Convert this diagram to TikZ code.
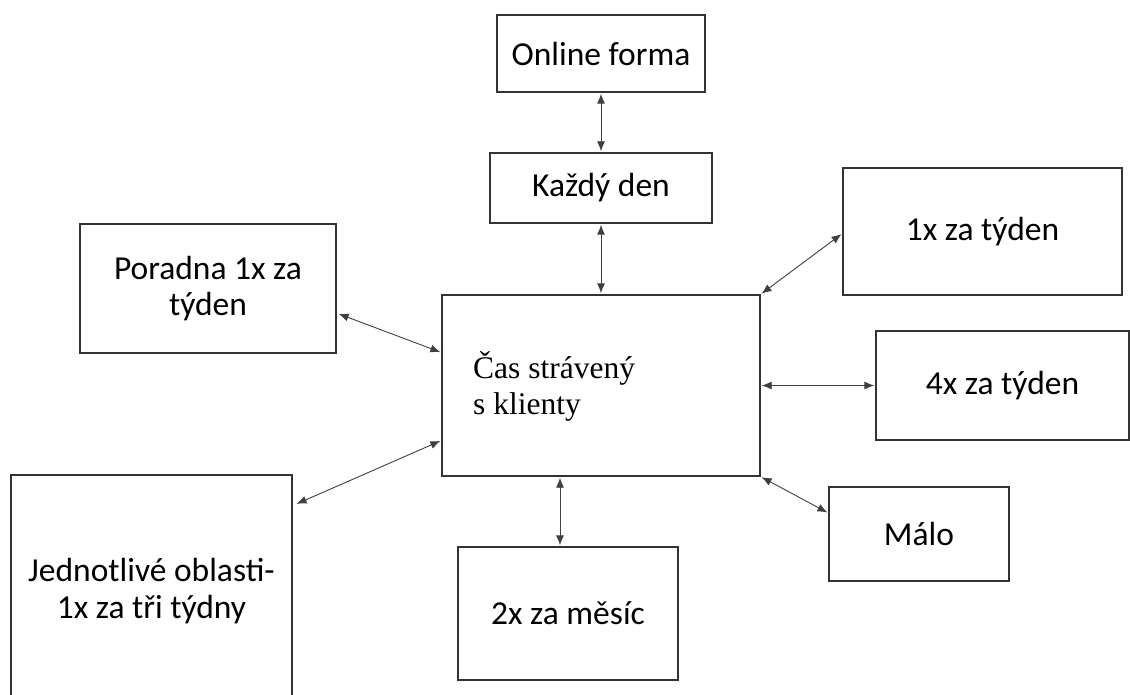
\documentclass[tikz,border=0pt]{standalone}
\usepackage{fontspec}
\setmainfont{Liberation Serif}
\newfontfamily\calibrifont{Carlito}
\usetikzlibrary{arrows.meta,calc}
\begin{document}
\begin{tikzpicture}[x=1pt,y=-1pt,
  box/.style={draw=black!80,line width=1.4pt,inner sep=0pt,align=center,font=\calibrifont\fontsize{33.5}{36.5}\selectfont},
  con/.style={draw=black!75,line width=0.9pt,{Latex[length=10pt,width=8pt]}-{Latex[length=10pt,width=8pt]},shorten <=1pt,shorten >=1pt}]
\useasboundingbox (0,0) rectangle (1130,695);
\node[box,minimum width=208,minimum height=77] (on) at (601,53.5) {Online forma};
\node[box,minimum width=222,minimum height=70] (kd) at (601,188) {Každý den};
\node[box,minimum width=279,minimum height=127] (t1) at (982.5,231.5) {1x za týden};
\node[box,minimum width=256,minimum height=129] (po) at (208,288.5) {Poradna 1x za\\týden};
\node[box,minimum width=318,minimum height=181] (cas) at (601,385.5) {};
\node[font=\fontsize{31.5}{36.5}\selectfont,align=left,anchor=north west,inner sep=0pt] (ct) at (473,351) {Čas strávený\\s klienty};
\node[box,minimum width=253,minimum height=109] (t4) at (1002.5,385.5) {4x za týden};
\node[box,minimum width=281,minimum height=232] (je) at (151.5,591) {Jednotlivé oblasti-\\1x za tři týdny};
\node[box,minimum width=180,minimum height=94] (ma) at (919,534) {Málo};
\node[box,minimum width=220,minimum height=133] (mz) at (568,613.5) {2x za měsíc};
\draw[con] (on.south) -- (kd.north);
\draw[con] (kd.south) -- (cas.north);
\draw[con] ($(t1.west)+(0,2)$) -- (cas.north east);
\draw[con] ($(po.east)+(1,25)$) -- ($(cas.west)+(0,-33)$);
\draw[con] (t4.west) -- (cas.east);
\draw[con] ($(je.north east)+(3,30)$) -- ($(cas.west)+(0,55)$);
\draw[con] (cas.south east) -- ($(ma.west)+(0,-21)$);
\coordinate (b) at ($(cas.south)+(-41,0)$);
\draw[con] (b) -- (mz.north -| b);
\end{tikzpicture}
\end{document}
